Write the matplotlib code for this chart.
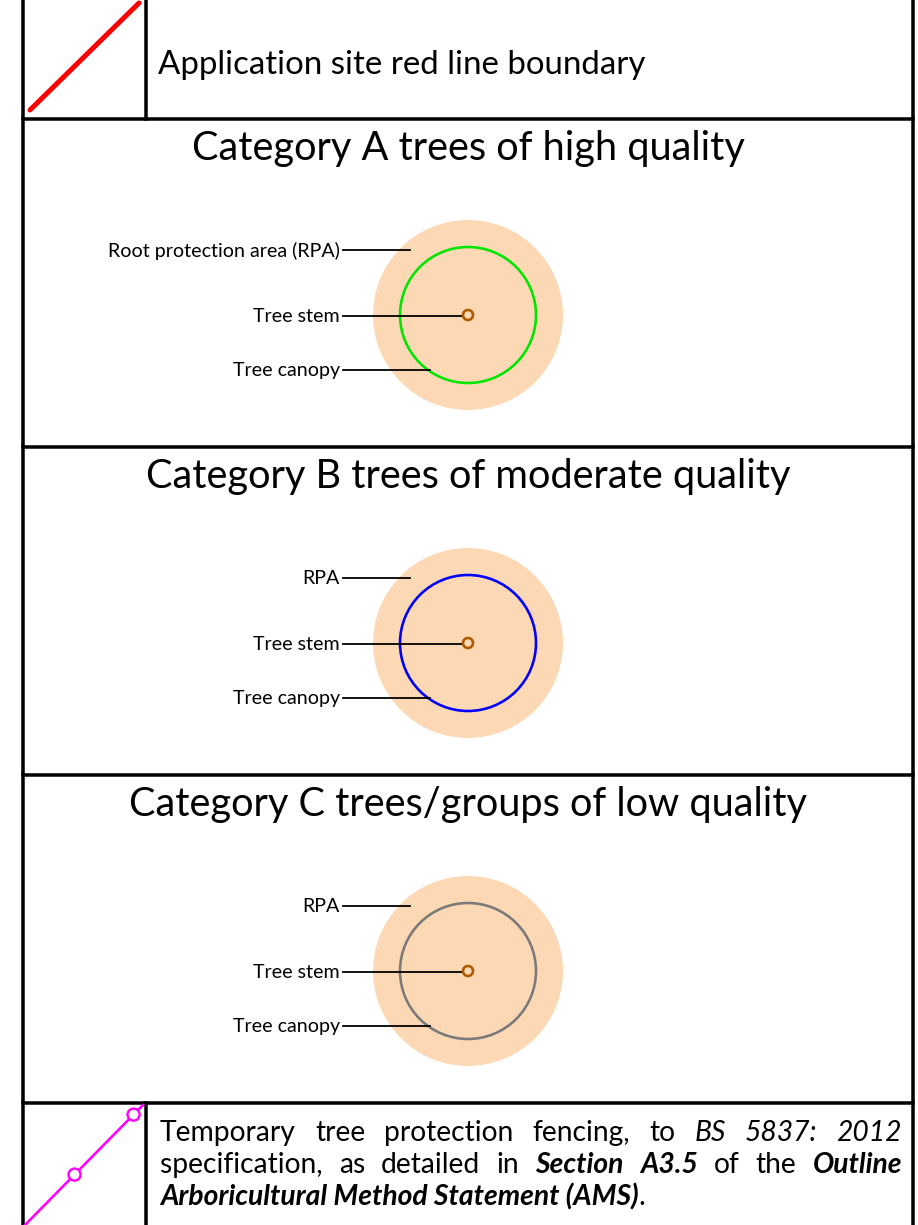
import numpy as np
import matplotlib
matplotlib.use('Agg')
from matplotlib import pyplot as plt
from matplotlib.patches import Circle

plt.rcParams['font.family'] = ['Lato', 'DejaVu Sans']

# --- key content ---
boundary_label = 'Application site red line boundary'
titles = ['Category A trees of high quality',
          'Category B trees of moderate quality',
          'Category C trees/groups of low quality']
rpa_labels = ['Root protection area (RPA)', 'RPA', 'RPA']
stem_label = 'Tree stem'
canopy_label = 'Tree canopy'
canopy_colours = ['#00e600', '#0000ff', '#7a7a7a']
# fencing note: words with style n = normal, i = italic, bi = bold italic
fence_lines = [
	[('Temporary', 'n'), ('tree', 'n'), ('protection', 'n'), ('fencing,', 'n'),
	 ('to', 'n'), ('BS', 'i'), ('5837:', 'i'), ('2012', 'i')],
	[('specification,', 'n'), ('as', 'n'), ('detailed', 'n'), ('in', 'n'),
	 ('Section', 'bi'), ('A3.5', 'bi'), ('of', 'n'), ('the', 'n'), ('Outline', 'bi')],
	[('Arboricultural Method Statement (AMS)', 'bi'), ('.', 'n')],
]

W, H = 918, 1225
PX = 0.72  # points per pixel at dpi 100
f = plt.figure(figsize=(W/100, H/100), dpi=100)
ax = f.add_axes([0, 0, 1, 1])
ax.set_xlim(0, W)
ax.set_ylim(H, 0)
ax.axis('off')
renderer = f.canvas.get_renderer()

STYLES = {'n': dict(), 'i': dict(style='italic'), 'bi': dict(style='italic', weight='bold')}

def text_width(s, size, **kw):
	t = ax.text(0, 0, s, fontsize=size, **kw)
	w = t.get_window_extent(renderer).width
	t.remove()
	return w

def fit_size(s, width, **kw):
	return 10*width/text_width(s, 10, **kw)

# grid lines
xl, xr, xdiv = 23, 913, 146
rows = [119, 447, 775, 1103]
lw = 3.5*PX
ax.plot([xl, xl], [0, H], 'k-', lw=lw)
ax.plot([xr, xr], [0, H], 'k-', lw=lw)
for y in rows:
	ax.plot([xl, xr], [y, y], 'k-', lw=lw)
ax.plot([xdiv, xdiv], [0, rows[0]], 'k-', lw=lw)
ax.plot([xdiv, xdiv], [rows[-1], H], 'k-', lw=lw)

# red line boundary symbol
ax.plot([xl+7, xdiv-7], [rows[0]-9, 3], color='#ff0000', lw=5*PX, solid_capstyle='round')
s = fit_size(boundary_label, 489)
ax.text(158, 74, boundary_label, fontsize=s, va='baseline', ha='left')

# tree categories
ts = fit_size(titles[0], 554)
ls = fit_size(rpa_labels[0], 233)
cx = 468
for k in range(3):
	top = rows[k]
	cy = top + 196
	ax.text(cx, top + 41, titles[k], fontsize=ts, ha='center', va='baseline')
	ax.add_patch(Circle((cx, cy), 95, facecolor='#fdd8b5', edgecolor='none'))
	ax.add_patch(Circle((cx, cy), 68, facecolor='none', edgecolor=canopy_colours[k], lw=2.6*PX))
	ax.add_patch(Circle((cx, cy), 5, facecolor='none', edgecolor='#b05a00', lw=2.6*PX, zorder=4))
	for dy, lab, xe in [(-66, rpa_labels[k], 410), (0, stem_label, cx-5), (54, canopy_label, 430)]:
		ax.plot([343, xe], [cy+dy+1, cy+dy+1], 'k-', lw=1.8*PX, zorder=3)
		ax.text(340, cy+dy, lab, fontsize=ls, ha='right', va='center_baseline')

# fencing symbol
fx = np.array([25, 143])
fy = np.array([H, rows[-1]+2])
ax.plot(fx, fy, color='#ff00ff', lw=2.6*PX)
for t in [0.42, 0.92]:
	ax.add_patch(Circle((fx[0]+t*(fx[1]-fx[0]), fy[0]+t*(fy[1]-fy[0])), 6,
	                    facecolor='white', edgecolor='#ff00ff', lw=2.4*PX, zorder=4))

# justified note
fs = fit_size(fence_lines[2][0][0], 477, **STYLES['bi'])
x0, x1 = 160, 902
for i, line in enumerate(fence_lines):
	yb = 1141 + 32*i
	widths = [text_width(w, fs, **STYLES[st]) for w, st in line]
	if i < len(fence_lines)-1:
		gap = (x1 - x0 - sum(widths))/(len(line)-1)
	else:
		gap = 0
	x = x0
	for (w, st), wd in zip(line, widths):
		ax.text(x, yb, w, fontsize=fs, ha='left', va='baseline', **STYLES[st])
		x += wd + gap

f.savefig('out.png', dpi=100)
